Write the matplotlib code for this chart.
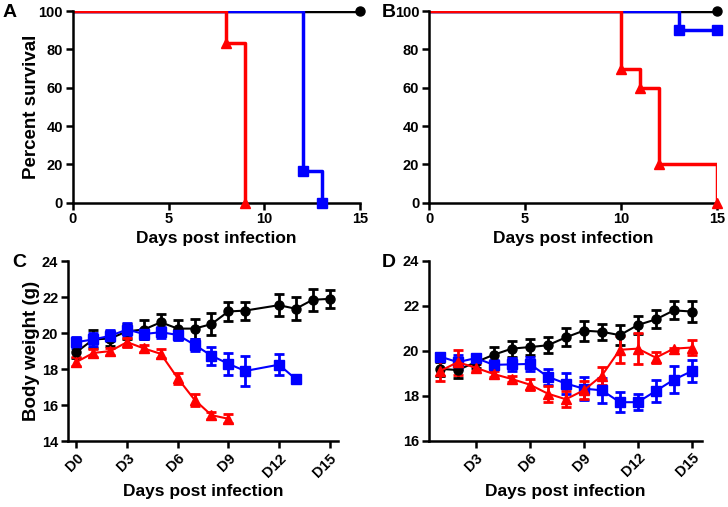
import matplotlib
matplotlib.use("Agg")
import matplotlib.pyplot as plt
import numpy as np

plt.rcParams['font.family'] = ['Liberation Sans', 'DejaVu Sans']
plt.rcParams['font.weight'] = 'bold'

# ---------------- Survival data ----------------
# Panel A
A_black_t = [0, 15]; A_black_s = [100, 100]
A_blue_t = [0, 12, 13]; A_blue_s = [100, 16.7, 0]
A_red_t = [0, 8, 9]; A_red_s = [100, 83.3, 0]
A_black_mt = [15]; A_black_ms = [100]
A_blue_mt = [12, 13]; A_blue_ms = [16.7, 0]
A_red_mt = [8, 9]; A_red_ms = [83.3, 0]
# Panel B
B_black_t = [0, 15]; B_black_s = [100, 100]
B_blue_t = [0, 13, 15]; B_blue_s = [100, 90, 90]
B_red_t = [0, 10, 11, 12, 15]; B_red_s = [100, 70, 60, 20, 0]
B_black_mt = [15]; B_black_ms = [100]
B_blue_mt = [13, 15]; B_blue_ms = [90, 90]
B_red_mt = [10, 11, 12, 15]; B_red_ms = [70, 60, 20, 0]

# ---------------- Body weight data ----------------
# Panel C
C_black_d = [0, 1, 2, 3, 4, 5, 6, 7, 8, 9, 10, 12, 13, 14, 15]
C_black_m = [18.95, 19.65, 19.7, 20.1, 20.2, 20.6, 20.25, 20.25, 20.5, 21.2, 21.25, 21.55, 21.35, 21.85, 21.9]
C_black_e = [0.35, 0.5, 0.4, 0.4, 0.5, 0.45, 0.5, 0.55, 0.6, 0.55, 0.5, 0.6, 0.65, 0.6, 0.5]
C_blue_d = [0, 1, 2, 3, 4, 5, 6, 7, 8, 9, 10, 12, 13]
C_blue_m = [19.5, 19.65, 19.85, 20.2, 19.95, 20.05, 19.9, 19.35, 18.75, 18.3, 17.9, 18.25, 17.45]
C_blue_e = [0.3, 0.35, 0.3, 0.35, 0.3, 0.3, 0.3, 0.35, 0.5, 0.6, 0.85, 0.6, 0.1]
C_red_d = [0, 1, 2, 3, 4, 5, 6, 7, 8, 9]
C_red_m = [18.4, 18.9, 19.0, 19.5, 19.15, 18.85, 17.5, 16.3, 15.45, 15.25]
C_red_e = [0.25, 0.2, 0.2, 0.25, 0.2, 0.25, 0.3, 0.35, 0.2, 0.25]
# Panel D
D_days = [1, 2, 3, 4, 5, 6, 7, 8, 9, 10, 11, 12, 13, 14, 15]
D_black_m = [19.2, 19.15, 19.5, 19.83, 20.1, 20.17, 20.25, 20.6, 20.9, 20.85, 20.7, 21.15, 21.4, 21.8, 21.75]
D_black_e = [0.3, 0.35, 0.25, 0.35, 0.35, 0.35, 0.35, 0.4, 0.45, 0.35, 0.45, 0.4, 0.4, 0.4, 0.45]
D_blue_m = [19.75, 19.5, 19.68, 19.38, 19.4, 19.42, 18.85, 18.55, 18.32, 18.25, 17.72, 17.72, 18.22, 18.72, 19.1]
D_blue_e = [0.15, 0.3, 0.15, 0.2, 0.3, 0.3, 0.35, 0.45, 0.5, 0.55, 0.45, 0.35, 0.5, 0.6, 0.5]
D_red_m = [19.1, 19.5, 19.25, 18.97, 18.75, 18.5, 18.1, 17.85, 18.25, 18.9, 20.05, 20.1, 19.7, 20.1, 20.15]
D_red_e = [0.45, 0.55, 0.15, 0.15, 0.15, 0.25, 0.35, 0.35, 0.4, 0.4, 0.6, 0.7, 0.25, 0.05, 0.35]

xtick_vals = [0, 3, 6, 9, 12, 15]
xtick_labels = ['D0', 'D3', 'D6', 'D9', 'D12', 'D15']

RED = '#ff0000'
BLUE = '#0000ff'
BLACK = '#000000'

TICK_FS = 10.5
XLAB_FS = 12.5
YLAB_FS = 13.5

fig = plt.figure(figsize=(7.28, 5.07), dpi=100)

def style_axes(ax):
    for s in ['top', 'right']:
        ax.spines[s].set_visible(False)
    for s in ['left', 'bottom']:
        ax.spines[s].set_linewidth(1.8)
    ax.tick_params(width=1.8, length=5, labelsize=TICK_FS, pad=2)
    for lab in ax.get_xticklabels() + ax.get_yticklabels():
        lab.set_fontweight('bold')

axA = fig.add_axes([0.0999, 0.6002, 0.3947, 0.378])
axB = fig.add_axes([0.5893, 0.6002, 0.3956, 0.378])
axC = fig.add_axes([0.0934, 0.1296, 0.3709, 0.3556])
axD = fig.add_axes([0.5893, 0.1304, 0.3746, 0.3550])

def survival(ax, lines, marks):
    for (t, s, c) in lines:
        ax.step(t, s, where='post', color=c, lw=2.5, zorder=2)
    for (t, s, c, m, ms) in marks:
        ax.plot(t, s, ls='none', marker=m, color=c, ms=ms, clip_on=False, zorder=3)
    ax.set_xlim(0, 15)
    ax.set_ylim(0, 100)
    ax.set_xticks([0, 5, 10, 15])
    ax.set_yticks([0, 20, 40, 60, 80, 100])
    ax.set_xlabel('Days post infection', fontsize=XLAB_FS, fontweight='bold', labelpad=3)
    style_axes(ax)

survival(axA,
         [(A_black_t, A_black_s, BLACK), (A_blue_t, A_blue_s, BLUE), (A_red_t, A_red_s, RED)],
         [(A_black_mt, A_black_ms, BLACK, 'o', 6.5), (A_blue_mt, A_blue_ms, BLUE, 's', 7),
          (A_red_mt, A_red_ms, RED, '^', 7)])
axA.set_ylabel('Percent survival', fontsize=YLAB_FS, fontweight='bold')
axA.yaxis.set_label_coords(-0.114, 0.5)

survival(axB,
         [(B_black_t, B_black_s, BLACK), (B_blue_t, B_blue_s, BLUE), (B_red_t, B_red_s, RED)],
         [(B_black_mt, B_black_ms, BLACK, 'o', 6.5), (B_blue_mt, B_blue_ms, BLUE, 's', 7),
          (B_red_mt, B_red_ms, RED, '^', 7)])

def weight(ax, series, ylim, yticks, xlim):
    for (d, m, e, c, mk, ms) in series:
        ax.errorbar(d, m, yerr=e, color=c, marker=mk, ms=ms, lw=1.5,
                    elinewidth=2, capsize=3.5, capthick=2, clip_on=False)
    ax.set_xlim(*xlim)
    ax.set_ylim(*ylim)
    ax.set_yticks(yticks)
    ax.set_xlabel('Days post infection', fontsize=XLAB_FS, fontweight='bold', labelpad=3)
    style_axes(ax)

weight(axC,
       [(C_black_d, C_black_m, C_black_e, BLACK, 'o', 6.5),
        (C_blue_d, C_blue_m, C_blue_e, BLUE, 's', 7),
        (C_red_d, C_red_m, C_red_e, RED, '^', 7)],
       (14, 24), [14, 16, 18, 20, 22, 24], (-0.5, 15.5))
axC.set_xticks(xtick_vals)
axC.set_xticklabels(xtick_labels, rotation=45, ha='right', rotation_mode='anchor',
                    fontweight='bold', fontsize=TICK_FS)
axC.set_ylabel('Body weight (g)', fontsize=YLAB_FS, fontweight='bold')
axC.yaxis.set_label_coords(-0.104, 0.5)

weight(axD,
       [(D_days, D_black_m, D_black_e, BLACK, 'o', 6.5),
        (D_days, D_blue_m, D_blue_e, BLUE, 's', 7),
        (D_days, D_red_m, D_red_e, RED, '^', 7)],
       (16, 24), [16, 18, 20, 22, 24], (0.4, 15.55))
axD.set_xticks(xtick_vals[1:])
axD.set_xticklabels(xtick_labels[1:], rotation=45, ha='right', rotation_mode='anchor',
                    fontweight='bold', fontsize=TICK_FS)

for lbl, x, y in [('A', 0.004, 0.975), ('B', 0.525, 0.975), ('C', 0.017, 0.483), ('D', 0.525, 0.483)]:
    fig.text(x, y, lbl, fontsize=14, fontweight='bold', va='center', ha='left')

fig.savefig('out.png', dpi=100)
